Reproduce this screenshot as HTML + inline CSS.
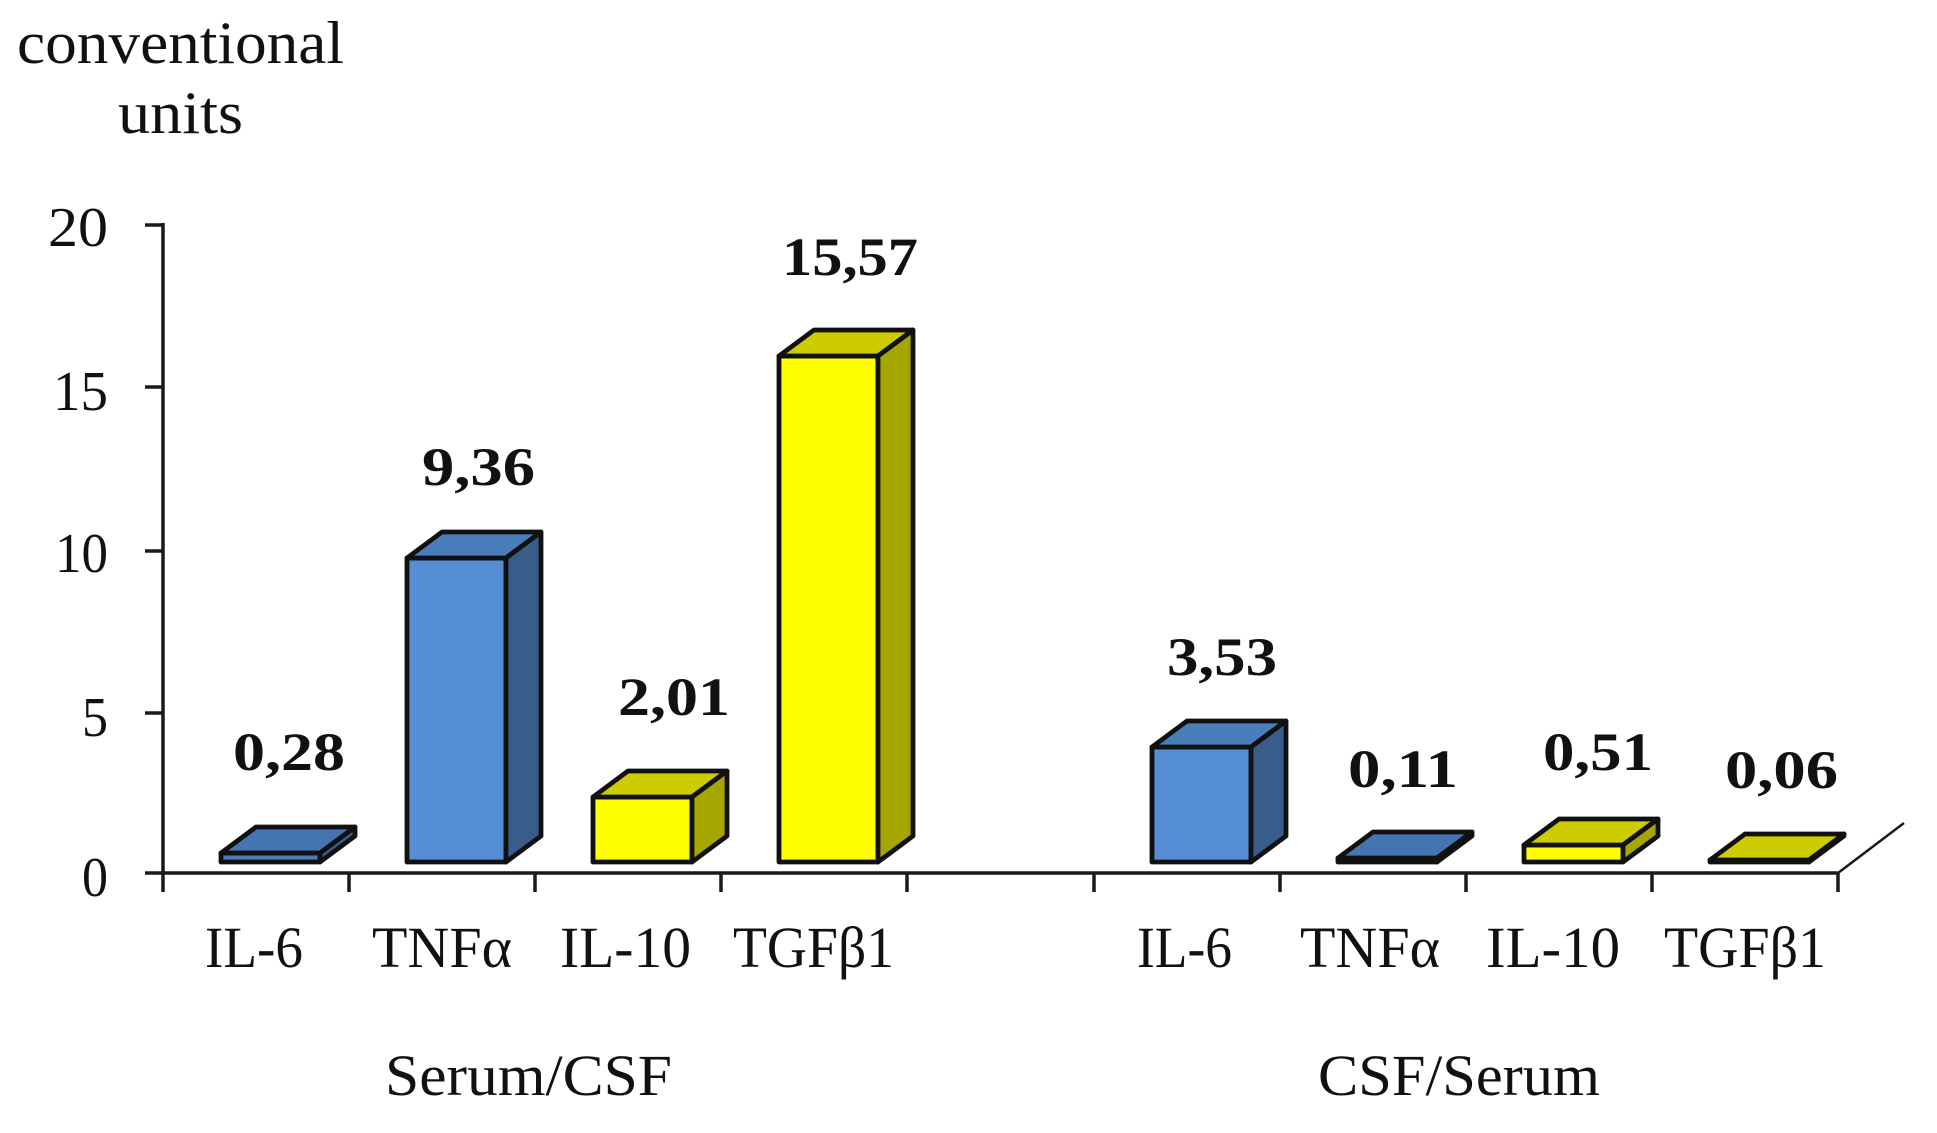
<!DOCTYPE html>
<html>
<head>
<meta charset="utf-8">
<style>
  html,body{margin:0;padding:0;background:#ffffff;}
  body{width:1937px;height:1133px;overflow:hidden;}
  svg{display:block;}
  .t{font-family:"Liberation Serif","DejaVu Serif",serif;fill:#111;}
  .b{font-family:"Liberation Serif","DejaVu Serif",serif;font-weight:bold;fill:#111;}
</style>
</head>
<body>
<svg width="1937" height="1133" viewBox="0 0 1937 1133" xmlns="http://www.w3.org/2000/svg">
  <rect width="1937" height="1133" fill="#ffffff"/>

  <!-- axis title -->
  <text class="t" x="17" y="63" font-size="60" textLength="327" lengthAdjust="spacingAndGlyphs">conventional</text>
  <text class="t" x="118" y="133" font-size="60" textLength="125" lengthAdjust="spacingAndGlyphs">units</text>

  <!-- y tick labels -->
  <text class="t" x="48" y="246" font-size="56" textLength="60" lengthAdjust="spacingAndGlyphs">20</text>
  <text class="t" x="53" y="410" font-size="56" textLength="55" lengthAdjust="spacingAndGlyphs">15</text>
  <text class="t" x="55" y="572" font-size="56" textLength="53" lengthAdjust="spacingAndGlyphs">10</text>
  <text class="t" x="82" y="736" font-size="56" textLength="26" lengthAdjust="spacingAndGlyphs">5</text>
  <text class="t" x="82" y="896" font-size="56" textLength="26" lengthAdjust="spacingAndGlyphs">0</text>

  <!-- axes -->
  <g stroke="#1a1a1a" stroke-width="3.5" fill="none" stroke-linecap="butt">
    <line x1="163" y1="223" x2="163" y2="892"/>
    <line x1="145" y1="225" x2="163" y2="225"/>
    <line x1="145" y1="387" x2="163" y2="387"/>
    <line x1="145" y1="551" x2="163" y2="551"/>
    <line x1="145" y1="713" x2="163" y2="713"/>
    <line x1="145" y1="873" x2="1838" y2="873"/>
    <line x1="349" y1="873" x2="349" y2="892"/>
    <line x1="535" y1="873" x2="535" y2="892"/>
    <line x1="721" y1="873" x2="721" y2="892"/>
    <line x1="907" y1="873" x2="907" y2="892"/>
    <line x1="1094" y1="873" x2="1094" y2="892"/>
    <line x1="1280" y1="873" x2="1280" y2="892"/>
    <line x1="1466" y1="873" x2="1466" y2="892"/>
    <line x1="1652" y1="873" x2="1652" y2="892"/>
    <line x1="1838" y1="873" x2="1838" y2="892"/>
  </g>
  <line x1="1838" y1="873" x2="1904" y2="823" stroke="#1a1a1a" stroke-width="2.5"/>

  <!-- bars -->
  <g stroke="#111" stroke-width="4.8" stroke-linejoin="round">
    <!-- IL-6 0.28 -->
    <rect x="221" y="853" width="99" height="9" fill="#4A7EBB"/>
    <polygon points="221,853 320,853 355,827 256,827" fill="#4575B0"/>
    <polygon points="320,853 355,827 355,836 320,862" fill="#385D8A"/>
    <!-- TNFa 9.36 -->
    <rect x="407" y="558" width="99" height="304" fill="#558ED5"/>
    <polygon points="407,558 506,558 541,532 442,532" fill="#4A7EBB"/>
    <polygon points="506,558 541,532 541,836 506,862" fill="#385D8A"/>
    <!-- IL-10 2.01 -->
    <rect x="593" y="797" width="99" height="65" fill="#FFFF00"/>
    <polygon points="593,797 692,797 727,771 628,771" fill="#CCCC00"/>
    <polygon points="692,797 727,771 727,836 692,862" fill="#A6A600"/>
    <!-- TGFb1 15.57 -->
    <rect x="779" y="356" width="99" height="506" fill="#FFFF00"/>
    <polygon points="779,356 878,356 913,330 814,330" fill="#CCCC00"/>
    <polygon points="878,356 913,330 913,836 878,862" fill="#A6A600"/>
    <!-- IL-6 3.53 -->
    <rect x="1152" y="747" width="99" height="115" fill="#558ED5"/>
    <polygon points="1152,747 1251,747 1286,721 1187,721" fill="#4A7EBB"/>
    <polygon points="1251,747 1286,721 1286,836 1251,862" fill="#385D8A"/>
    <!-- TNFa 0.11 -->
    <rect x="1338" y="858" width="99" height="4" fill="#4A7EBB"/>
    <polygon points="1338,858 1437,858 1472,832 1373,832" fill="#4575B0"/>
    <polygon points="1437,858 1472,832 1472,836 1437,862" fill="#385D8A"/>
    <!-- IL-10 0.51 -->
    <rect x="1524" y="845" width="99" height="17" fill="#FFFF00"/>
    <polygon points="1524,845 1623,845 1658,819 1559,819" fill="#CCCC00"/>
    <polygon points="1623,845 1658,819 1658,836 1623,862" fill="#A6A600"/>
    <!-- TGFb1 0.06 -->
    <rect x="1710" y="860" width="99" height="2" fill="#CCCC00"/>
    <polygon points="1710,860 1809,860 1844,834 1745,834" fill="#CCCC00"/>
    <polygon points="1809,860 1844,834 1844,836 1809,862" fill="#A6A600"/>
  </g>

  <!-- value labels -->
  <text class="b" x="233" y="770" font-size="54" textLength="112" lengthAdjust="spacingAndGlyphs">0,28</text>
  <text class="b" x="422" y="485" font-size="54" textLength="113" lengthAdjust="spacingAndGlyphs">9,36</text>
  <text class="b" x="618" y="715" font-size="54" textLength="112" lengthAdjust="spacingAndGlyphs">2,01</text>
  <text class="b" x="782" y="275" font-size="54" textLength="136" lengthAdjust="spacingAndGlyphs">15,57</text>
  <text class="b" x="1167" y="675" font-size="54" textLength="110" lengthAdjust="spacingAndGlyphs">3,53</text>
  <text class="b" x="1348" y="787" font-size="54" textLength="110" lengthAdjust="spacingAndGlyphs">0,11</text>
  <text class="b" x="1543" y="770" font-size="54" textLength="110" lengthAdjust="spacingAndGlyphs">0,51</text>
  <text class="b" x="1725" y="788" font-size="54" textLength="113" lengthAdjust="spacingAndGlyphs">0,06</text>

  <!-- category labels -->
  <text class="t" x="205" y="967" font-size="58" textLength="98" lengthAdjust="spacingAndGlyphs">IL-6</text>
  <text class="t" x="372" y="967" font-size="58" textLength="140" lengthAdjust="spacingAndGlyphs">TNFα</text>
  <text class="t" x="560" y="967" font-size="58" textLength="131" lengthAdjust="spacingAndGlyphs">IL-10</text>
  <text class="t" x="733" y="967" font-size="58" textLength="161" lengthAdjust="spacingAndGlyphs">TGFβ1</text>
  <text class="t" x="1137" y="967" font-size="58" textLength="95" lengthAdjust="spacingAndGlyphs">IL-6</text>
  <text class="t" x="1300" y="967" font-size="58" textLength="140" lengthAdjust="spacingAndGlyphs">TNFα</text>
  <text class="t" x="1486" y="967" font-size="58" textLength="134" lengthAdjust="spacingAndGlyphs">IL-10</text>
  <text class="t" x="1664" y="967" font-size="58" textLength="162" lengthAdjust="spacingAndGlyphs">TGFβ1</text>

  <!-- group labels -->
  <text class="t" x="385" y="1095" font-size="58" textLength="287" lengthAdjust="spacingAndGlyphs">Serum/CSF</text>
  <text class="t" x="1318" y="1095" font-size="58" textLength="282" lengthAdjust="spacingAndGlyphs">CSF/Serum</text>
</svg>
</body>
</html>
